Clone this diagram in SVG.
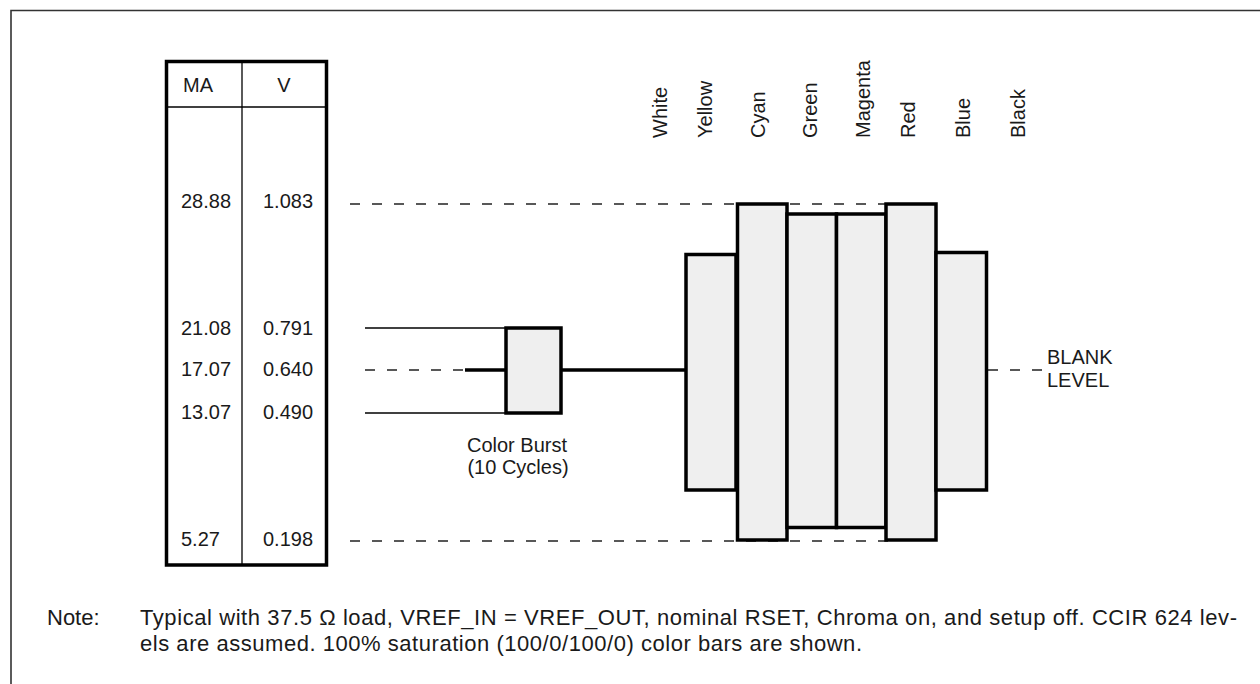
<svg xmlns="http://www.w3.org/2000/svg" width="1260" height="684" viewBox="0 0 1260 684">
<style>
text{font-family:"Liberation Sans",Arial,sans-serif;font-size:20px;fill:#1a1a1a}
.note{font-size:22px}
.bar{fill:#efefef;stroke:#000;stroke-width:3.5}
.thin{stroke:#000;stroke-width:1.3;fill:none}
.dash{stroke:#222;stroke-width:1.3;stroke-dasharray:10 12;fill:none}
.thick{stroke:#000;stroke-width:3.5;fill:none}
.mid{text-anchor:middle}
</style>
<rect x="0" y="0" width="1260" height="684" fill="#fff"/>
<path d="M11 700 V10.5 H1270" fill="none" stroke="#333" stroke-width="1.6"/>
<g id="table">
<rect x="166.5" y="61.5" width="160" height="503.5" fill="#fff" stroke="#000" stroke-width="3.5"/>
<line x1="166" y1="107" x2="327" y2="107" class="thin"/>
<line x1="242" y1="61" x2="242" y2="565" class="thin"/>
<text x="183" y="92">MA</text>
<text x="284" y="92" class="mid">V</text>
<text x="181" y="208">28.88</text><text x="263" y="208">1.083</text>
<text x="181" y="335">21.08</text><text x="263" y="335">0.791</text>
<text x="181" y="376">17.07</text><text x="263" y="376">0.640</text>
<text x="181" y="419">13.07</text><text x="263" y="419">0.490</text>
<text x="181" y="546">5.27</text><text x="263" y="546">0.198</text>
</g>
<g id="connectors">
<line x1="350" y1="204" x2="888" y2="204" class="dash"/>
<line x1="350" y1="541" x2="888" y2="541" class="dash"/>
<line x1="365" y1="328" x2="506" y2="328" class="thin"/>
<line x1="365" y1="413" x2="506" y2="413" class="thin"/>
<line x1="365" y1="370" x2="465" y2="370" class="dash"/>
<line x1="465" y1="370" x2="506" y2="370" class="thick"/>
<line x1="561" y1="370" x2="686" y2="370" class="thick"/>
<line x1="988" y1="370" x2="1042" y2="370" class="dash"/>
</g>
<g id="burst">
<rect x="506" y="328" width="55" height="85" class="bar"/>
<text x="517" y="452" class="mid">Color Burst</text>
<text x="518" y="474" class="mid">(10 Cycles)</text>
</g>
<g id="bars">
<rect x="686" y="254.5" width="50" height="235.5" class="bar"/>
<rect x="737.5" y="204" width="49.5" height="336" class="bar"/>
<rect x="787" y="214" width="49.5" height="313.5" class="bar"/>
<rect x="836.5" y="214" width="49.5" height="313.5" class="bar"/>
<rect x="886" y="204" width="50" height="336" class="bar"/>
<rect x="936" y="252.5" width="50.5" height="237.5" class="bar"/>
</g>
<g id="labels">
<text transform="translate(667,138) rotate(-90)">White</text>
<text transform="translate(712,138) rotate(-90)">Yellow</text>
<text transform="translate(765,138) rotate(-90)">Cyan</text>
<text transform="translate(817,138) rotate(-90)">Green</text>
<text transform="translate(870,138) rotate(-90)">Magenta</text>
<text transform="translate(915,138) rotate(-90)">Red</text>
<text transform="translate(970,138) rotate(-90)">Blue</text>
<text transform="translate(1025,138) rotate(-90)">Black</text>
</g>
<g id="blank">
<text x="1047" y="364">BLANK</text>
<text x="1047" y="387">LEVEL</text>
</g>
<g id="note">
<text x="47" y="625" class="note">Note:</text>
<text x="140" y="625" class="note" textLength="1097" lengthAdjust="spacing">Typical with 37.5 Ω load, VREF_IN = VREF_OUT, nominal RSET, Chroma on, and setup off. CCIR 624 lev-</text>
<text x="140" y="651" class="note" textLength="722" lengthAdjust="spacing">els are assumed. 100% saturation (100/0/100/0) color bars are shown.</text>
</g>
</svg>
